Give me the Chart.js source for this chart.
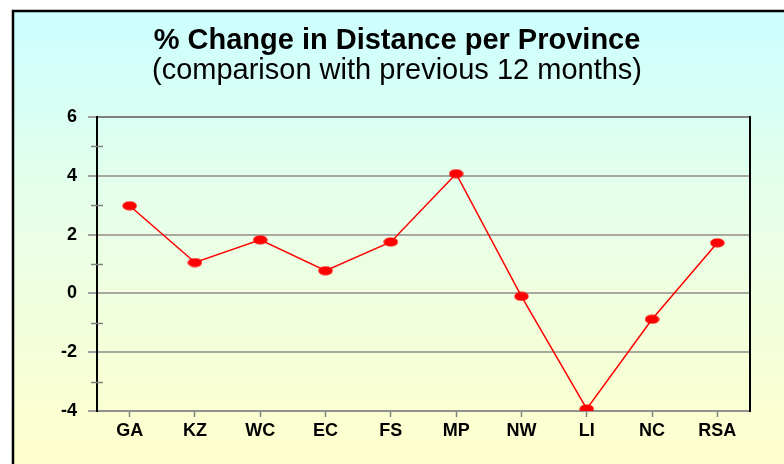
<!DOCTYPE html>
<html>
<head>
<meta charset="utf-8">
<script src="https://cdn.jsdelivr.net/npm/chart.js@4"></script>
<style>
  html, body { margin: 0; padding: 0; background: #fff; }
  #wrap { width: 784px; height: 464px; }
</style>
</head>
<body>
<div id="wrap"><canvas id="chart" width="784" height="464"></canvas></div>
<script>
// provinces and % change values
const provinces = ['GA', 'KZ', 'WC', 'EC', 'FS', 'MP', 'NW', 'LI', 'NC', 'RSA'];
const changes = [2.98, 1.05, 1.82, 0.77, 1.75, 4.07, -0.1, -3.93, -0.88, 1.72];
const yMin = -4, yMax = 6, yStep = 1;

const FONT = '"Liberation Sans", Arial, sans-serif';

// elliptical red marker
const marker = document.createElement('canvas');
marker.width = 15; marker.height = 10;
const mctx = marker.getContext('2d');
mctx.fillStyle = '#ff0000';
mctx.beginPath();
mctx.ellipse(7.5, 5, 7.2, 4.6, 0, 0, Math.PI * 2);
mctx.fill();

const frame = {
  id: 'frame',
  beforeDraw(chart) {
    const c = chart.ctx;
    c.save();
    c.fillStyle = '#fff';
    c.fillRect(0, 0, chart.width, chart.height);
    const g = c.createLinearGradient(0, 10, 0, chart.height);
    g.addColorStop(0, '#ccffff');
    g.addColorStop(0.5, '#eaffe6');
    g.addColorStop(1, '#ffffcc');
    c.fillStyle = g;
    c.fillRect(12, 10, chart.width - 12, chart.height - 10);
    c.strokeStyle = '#000';
    c.lineWidth = 2.5;
    c.strokeRect(13, 11, chart.width + 10, chart.height + 10);
    c.restore();
  },
  afterDraw(chart) {
    const a = chart.chartArea, c = chart.ctx;
    const y = chart.scales.y;
    c.save();
    c.strokeStyle = '#000';
    c.lineWidth = 2;
    c.beginPath();
    c.moveTo(a.right, a.top - 1);
    c.lineTo(a.right, a.bottom + 1);
    c.stroke();
    // minor ticks cross into the plot
    c.strokeStyle = '#808080';
    c.lineWidth = 1.5;
    for (let v = yMin + 1; v < yMax; v += 2) {
      const py = Math.round(y.getPixelForValue(v)) + 0.5;
      c.beginPath();
      c.moveTo(a.left - 6, py);
      c.lineTo(a.left + 6, py);
      c.stroke();
    }
    c.restore();
  }
};

new Chart(document.getElementById('chart'), {
  type: 'line',
  data: {
    labels: provinces,
    datasets: [{
      data: changes,
      borderColor: '#ff0000',
      borderWidth: 1.5,
      pointStyle: marker,
      pointRadius: 7,
      pointHoverRadius: 7,
      tension: 0
    }]
  },
  plugins: [frame],
  options: {
    responsive: false,
    animation: false,
    layout: { padding: { top: 10, left: 44, right: 34, bottom: 10 } },
    plugins: {
      legend: { display: false },
      tooltip: { enabled: false },
      title: {
        display: true,
        text: '% Change in Distance per Province',
        color: '#000',
        font: { family: FONT, size: 29, weight: 'bold', lineHeight: 0.93 },
        padding: { top: 18, bottom: 2 }
      },
      subtitle: {
        display: true,
        text: '(comparison with previous 12 months)',
        color: '#000',
        font: { family: FONT, size: 29, lineHeight: 1.0 },
        padding: { top: 0, bottom: 31 }
      }
    },
    scales: {
      x: {
        offset: true,
        afterFit: (s) => { s.height = 43; },
        grid: {
          offset: false,
          drawOnChartArea: false,
          drawTicks: true,
          tickLength: 6,
          tickColor: '#808080',
          tickWidth: 1.5
        },
        border: { color: '#909090', width: 2 },
        ticks: {
          color: '#000',
          padding: 3,
          font: { family: FONT, size: 18, weight: 'bold' }
        }
      },
      y: {
        min: yMin,
        max: yMax,
        afterFit: (s) => { s.width = 53; },
        border: { color: '#000', width: 2 },
        grid: {
          color: (ctx) => {
            const v = ctx.tick ? ctx.tick.value : 0;
            if (Math.abs(v) % 2 === 1) return 'rgba(0,0,0,0)';
            return v === yMax ? '#808080' : '#a8a8a0';
          },
          tickColor: (ctx) => {
            const v = ctx.tick ? ctx.tick.value : 0;
            return Math.abs(v) % 2 === 1 ? 'rgba(0,0,0,0)' : '#a0a0a0';
          },
          lineWidth: 2,
          tickLength: 9
        },
        ticks: {
          stepSize: yStep,
          color: '#000',
          padding: 11,
          font: { family: FONT, size: 18, weight: 'bold' },
          callback: (v) => (Math.abs(v) % 2 === 1 ? '' : v)
        }
      }
    }
  }
});
</script>
</body>
</html>
